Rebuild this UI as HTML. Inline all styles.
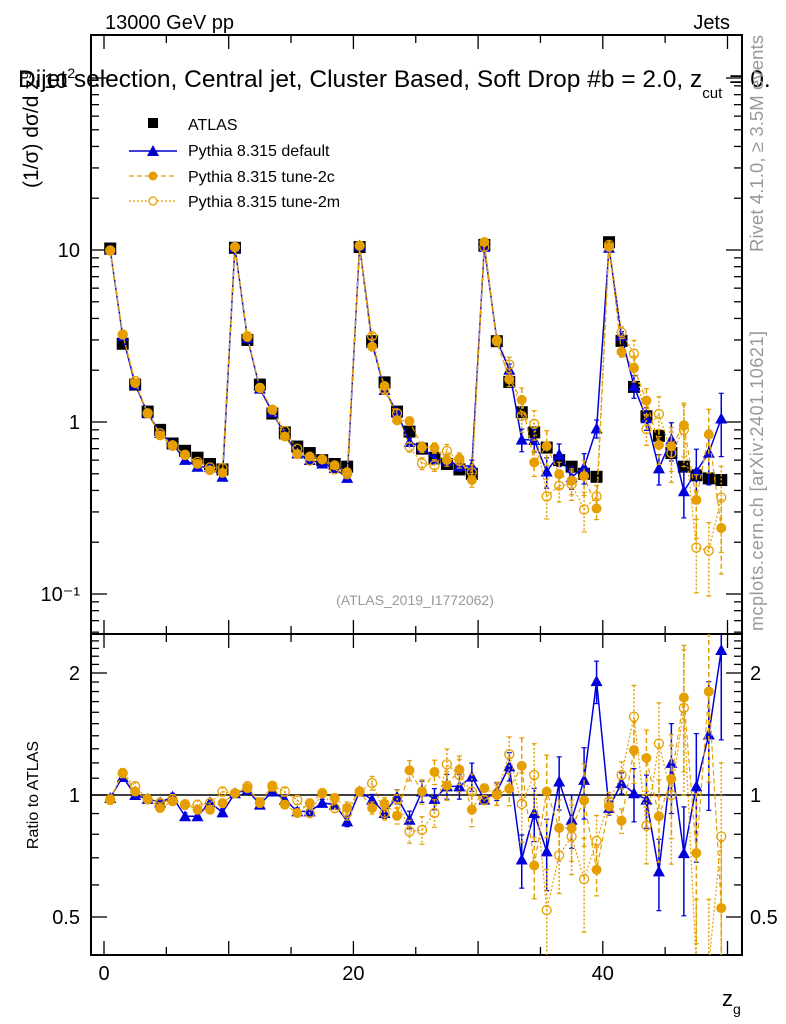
<!DOCTYPE html>
<html><head><meta charset="utf-8"><style>
html,body{margin:0;padding:0;background:#fff;}
svg{display:block;font-family:"Liberation Sans",sans-serif;}
</style></head><body>
<svg id="c" width="786" height="1024" viewBox="0 0 786 1024" xmlns="http://www.w3.org/2000/svg">
<text x="105" y="29" font-size="20">13000 GeV pp</text>
<text x="730" y="29" font-size="20" text-anchor="end">Jets</text>
<text x="44" y="88" font-size="21">10<tspan font-size="14" dy="-10">2</tspan></text>
<text x="18" y="87" font-size="24.5">Dijet selection, Central jet, Cluster Based, Soft Drop #b = 2.0, z<tspan font-size="15" dy="11">cut</tspan><tspan dy="-11"> = 0.</tspan></text>
<text transform="translate(38,188) rotate(-90)" font-size="21">(1/σ) dσ/d z<tspan font-size="14" dy="-10">g</tspan></text>
<text transform="translate(763,252) rotate(-90)" font-size="18.5" fill="#999" textLength="217">Rivet 4.1.0, ≥ 3.5M events</text>
<text transform="translate(763,631) rotate(-90)" font-size="18" fill="#999" textLength="300">mcplots.cern.ch [arXiv:2401.10621]</text>
<text x="415" y="605" font-size="14" fill="#999" text-anchor="middle">(ATLAS_2019_I1772062)</text>
<text transform="translate(38,795) rotate(-90)" font-size="16" text-anchor="middle">Ratio to ATLAS</text>
<text x="722" y="1006" font-size="22">z<tspan font-size="14" dy="8">g</tspan></text>
<g>
<rect x="148" y="118" width="10" height="10" fill="#000"/>
<text x="188" y="130" font-size="16">ATLAS</text>
<line x1="129" y1="151" x2="177" y2="151" stroke="#00c" stroke-width="1.5"/>
<path d="M147,156 L153,145 L159,156 Z" fill="#00c"/>
<text x="188" y="156" font-size="16">Pythia 8.315 default</text>
<line x1="129" y1="176" x2="177" y2="176" stroke="#e69f00" stroke-width="1.2" stroke-dasharray="5,3"/>
<circle cx="153" cy="176" r="4.5" fill="#e69f00"/>
<text x="188" y="182" font-size="16">Pythia 8.315 tune-2c</text>
<line x1="129" y1="201" x2="177" y2="201" stroke="#e69f00" stroke-width="1.2" stroke-dasharray="2,2"/>
<circle cx="153" cy="201" r="4" fill="#fff" stroke="#e69f00" stroke-width="1.3"/>
<text x="188" y="207" font-size="16">Pythia 8.315 tune-2m</text>
</g>
<g id="plot"></g>
</svg>
<script>
const bins = [];for(let i=0;i<50;i++)bins.push(i+0.5);
const atlas = [10.2,2.85,1.65,1.15,0.9,0.75,0.68,0.62,0.57,0.53,
 10.3,3.0,1.65,1.12,0.87,0.72,0.66,0.6,0.57,0.55,
 10.4,2.95,1.7,1.15,0.88,0.7,0.62,0.57,0.53,0.5,
 10.7,2.95,1.71,1.14,0.87,0.71,0.6,0.55,0.5,0.48,
 11.1,2.96,1.6,1.08,0.83,0.66,0.55,0.49,0.47,0.46];
const ratioDefault = [0.983,1.108,1.0,0.978,0.959,0.99,0.886,0.886,0.959,0.906,
 1.01,1.03,0.947,1.02,0.974,0.911,0.911,0.956,0.947,0.861,
 1.02,0.974,0.903,0.99,0.869,1.02,0.978,1.05,1.05,1.11,
 0.974,1.02,1.177,0.693,0.903,0.726,1.08,0.869,1.09,1.91,
 0.929,1.07,1.01,0.974,0.648,1.2,0.719,1.05,1.41,2.28];
const ratio2c = [0.977,1.133,1.02,0.977,0.929,0.965,0.95,0.92,0.92,0.955,
 1.01,1.04,0.955,1.055,0.947,0.903,0.955,1.01,0.983,0.929,
 1.02,0.929,0.952,0.889,1.15,1.02,1.14,1.055,1.155,0.92,
 1.04,1.0,1.036,1.18,0.67,1.02,0.829,0.829,0.97,0.654,
 0.938,0.864,1.29,1.234,0.886,1.095,1.74,0.719,1.8,0.526];
const ratio2m = [0.972,1.133,1.05,0.977,0.956,0.977,0.946,0.946,0.956,1.02,
 1.01,1.05,0.959,1.05,1.02,0.972,0.903,1.01,0.929,0.903,
 1.02,1.07,0.903,0.977,0.813,0.82,0.903,1.19,1.12,1.02,
 0.972,1.01,1.26,0.95,1.12,0.52,0.71,0.79,0.62,0.77,
 0.965,1.12,1.56,0.84,1.34,1.0,1.64,0.38,0.38,0.79];
const relErrMC = [0.01,0.02,0.02,0.02,0.02,0.02,0.02,0.02,0.02,0.02,
 0.01,0.02,0.02,0.02,0.02,0.02,0.02,0.02,0.02,0.03,
 0.01,0.03,0.03,0.04,0.05,0.06,0.06,0.07,0.07,0.08,
 0.02,0.05,0.08,0.15,0.15,0.2,0.15,0.15,0.2,0.12,
 0.04,0.06,0.15,0.15,0.2,0.25,0.3,0.35,0.35,0.4];
const yMainTicks = [{v:10,l:"10"},{v:1,l:"1"},{v:0.1,l:"10⁻¹"}];
const yRatioTicks = [2,1,0.5];
const xTicks = [0,20,40];

const NS="http://www.w3.org/2000/svg";
const L=91,R=742,T=35,MB=634,B=955;
const X=v=>104+v*12.47;
const YM=v=>422-172*Math.log10(v);
const YR=v=>795-122*Math.log2(v);
const g=document.getElementById('plot');
function mk(tag,at,parent){const e=document.createElementNS(NS,tag);for(const k in at)e.setAttribute(k,at[k]);(parent||g).appendChild(e);return e;}
function clip(id,y1,y2){const d=mk('defs',{});const c=mk('clipPath',{id:id},d);mk('rect',{x:L,y:y1,width:R-L,height:y2-y1},c);}
clip('cm',T,MB);clip('cr',MB,B);
let f=mk('rect',{x:L,y:T,width:R-L,height:MB-T,fill:'none',stroke:'#000','stroke-width':2});


f=mk('rect',{x:L,y:MB,width:R-L,height:B-MB,fill:'none',stroke:'#000','stroke-width':2});


for(let v=0;v<=51;v++){
 const major=v%10==0, mid=v%5==0; if(!mid)continue;
 const len=major?14:8; const x=X(v);
 for(const[y0,dir] of [[T,1],[MB,-1],[MB,1],[B,-1]]) mk('line',{x1:x,y1:y0,x2:x,y2:y0+dir*len,stroke:'#000','stroke-width':1.3});
}
xTicks.forEach(v=>{const t=mk('text',{x:X(v),y:980,'font-size':20,'text-anchor':'middle'});t.textContent=v;

});
for(let d=-2;d<=2;d++)for(let m=1;m<10;m++){const v=m*Math.pow(10,d);const y=YM(v);if(y<T||y>MB)continue;const len=m==1?16:8;
 mk('line',{x1:L,y1:y,x2:L+len,y2:y,stroke:'#000','stroke-width':1.3});mk('line',{x1:R,y1:y,x2:R-len,y2:y,stroke:'#000','stroke-width':1.3});}
yMainTicks.forEach(o=>{const t=mk('text',{x:80,y:YM(o.v)+7,'font-size':20,'text-anchor':'end'});t.textContent=o.l;

});
for(let v=0.4;v<=2.5;v+=0.1){const vv=Math.round(v*10)/10;const y=YR(vv);if(y<MB||y>B)continue;const len=(vv==0.5||vv==1||vv==2)?16:8;
 mk('line',{x1:L,y1:y,x2:L+len,y2:y,stroke:'#000','stroke-width':1.3});mk('line',{x1:R,y1:y,x2:R-len,y2:y,stroke:'#000','stroke-width':1.3});}
yRatioTicks.forEach(v=>{for(const[x,a] of [[80,'end'],[750,'start']]){const t=mk('text',{x:x,y:YR(v)+7,'font-size':20,'text-anchor':a});t.textContent=v;

}});
mk('line',{x1:L,y1:YR(1),x2:R,y2:YR(1),stroke:'#000','stroke-width':1.5});
function marker(parent,type,x,y,col){
 if(type=='tri') return mk('path',{d:`M${x-6},${y+5} L${x},${y-6} L${x+6},${y+5} Z`,fill:col},parent);
 if(type=='dot') return mk('circle',{cx:x,cy:y,r:5,fill:col},parent);
 if(type=='ring') return mk('circle',{cx:x,cy:y,r:4.5,fill:'none',stroke:col,'stroke-width':1.3},parent);
 return mk('rect',{x:x-6,y:y-6,width:12,height:12,fill:col},parent);
}
const series=[
 {name:'default',r:ratioDefault,col:'#0000dd',dash:'',type:'tri',ef:1},
 {name:'tune-2c',r:ratio2c,col:'#e69f00',dash:'5,3',type:'dot',ef:1.15},
 {name:'tune-2m',r:ratio2m,col:'#e69f00',dash:'2,2',type:'ring',ef:1.3}];
const gd=mk('g',{'clip-path':'url(#cm)'});


atlas.forEach((v,i)=>{const m=marker(gd,'sq',X(bins[i]),YM(v),'#000');

});
series.forEach(s=>{
 for(const [panel,Y,cp] of [['main',YM,'cm'],['ratio',YR,'cr']]){
  const gs=mk('g',{'clip-path':`url(#${cp})`});
  
  
  const vals=s.r.map((r,i)=>panel=='main'?r*atlas[i]:r);
  const pts=vals.map((v,i)=>`${X(bins[i]).toFixed(1)},${Y(v).toFixed(1)}`).join(' ');
  mk('polyline',{points:pts,fill:'none',stroke:s.col,'stroke-width':s.type=='tri'?1.5:1.2,'stroke-dasharray':s.dash},gs);
  vals.forEach((v,i)=>{const e=relErrMC[i]*s.ef;const x=X(bins[i]);
   const y1=Y(v*(1+e)),y2=Y(Math.max(v*(1-e),1e-3));
   if(Math.abs(y2-y1)>4){mk('line',{x1:x,y1:y1,x2:x,y2:y2,stroke:s.col,'stroke-width':1.5,'stroke-dasharray':s.dash},gs);
    mk('line',{x1:x-2.5,y1:y1,x2:x+2.5,y2:y1,stroke:s.col,'stroke-width':1.2},gs);
    mk('line',{x1:x-2.5,y1:y2,x2:x+2.5,y2:y2,stroke:s.col,'stroke-width':1.2},gs);}
   const m=marker(gs,s.type,x,Y(v),s.col);
   
   
  });
 }
});
</script>
</body></html>
